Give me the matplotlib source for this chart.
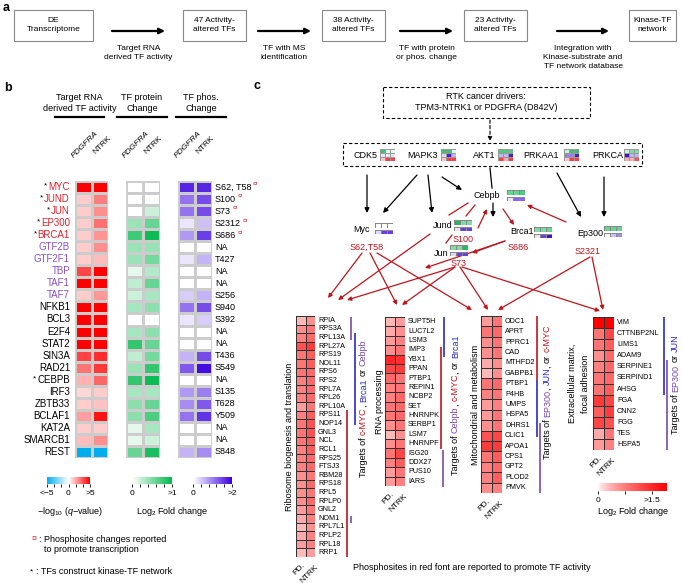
import numpy as np
import matplotlib
matplotlib.use('Agg')
import matplotlib.pyplot as plt
from matplotlib.colors import LinearSegmentedColormap, Normalize
from matplotlib.cm import ScalarMappable
from matplotlib.patches import Rectangle

plt.rcParams['font.family'] = ['Liberation Sans', 'DejaVu Sans']
plt.rcParams['mathtext.fontset'] = 'custom'
plt.rcParams['mathtext.rm'] = 'Liberation Sans'
plt.rcParams['mathtext.it'] = 'Liberation Sans:italic'

# ---------------- data ----------------
# panel a
flow_boxes = ['DE\nTranscriptome', '47 Activity-\naltered TFs', '38 Activity-\naltered TFs',
              '23 Activity-\naltered TFs', 'Kinase-TF\nnetwork']
flow_steps = ['Target RNA\nderived TF activity', 'TF with MS\nidentification',
              'TF with protein\nor phos. change', 'Integration with\nKinase-substrate and\nTF network database']

# panel b
tf_names = ['MYC', 'JUND', 'JUN', 'EP300', 'BRCA1', 'GTF2B', 'GTF2F1', 'TBP', 'TAF1', 'TAF7',
            'NFKB1', 'BCL3', 'E2F4', 'STAT2', 'SIN3A', 'RAD21', 'CEBPB', 'IRF3', 'ZBTB33',
            'BCLAF1', 'KAT2A', 'SMARCB1', 'REST']
tf_starred = ['MYC', 'JUND', 'JUN', 'EP300', 'BRCA1', 'CEBPB']
tf_red = ['MYC', 'JUND', 'JUN', 'EP300', 'BRCA1']
tf_purple = ['GTF2B', 'GTF2F1', 'TBP', 'TAF1', 'TAF7']
tf_activity = [[5, 5], [1, 2.5], [1, 2.2], [1, 2.8], [1, 2.1], [1, 2.2], [1, 1.3], [3.6, 5],
               [5, 5], [1, 2], [5, 5], [5, 5], [5, 5], [5, 5], [3.7, 4.1], [2.7, 3.9],
               [1.5, 3.0], [0.8, 1.0], [1.0, 1.2], [1.9, 4.6], [1.0, 1.0], [1.3, 2.2], [-5, -5]]
tf_protein = [[0, 0], [0, 0], [0, 0.2], [0.4, 0.6], [0.75, 0.95], [0.4, 0.4], [0.4, 0.55],
              [0.1, 0.3], [0.25, 0.6], [0.2, 0.35], [0.35, 0.45], [0, 0], [0.35, 0.45],
              [0.8, 0.6], [0.25, 0.55], [0.4, 0.8], [0.8, 0.95], [0.35, 0.35], [0.45, 0.6],
              [0.45, 0.7], [0.1, 0.35], [0.1, 0.2], [0.6, 0.9]]
tf_phos = [[1.7, 1.7], [1.1, 1.4], [1.1, 1.4], [0.2, 0.5], [0.8, 1.5], [0, 0], [0.2, 0.6],
           [0, 0], [0, 0], [0.4, 0.6], [1.1, 1.4], [0.2, 0.4], [0, 0], [0, 0], [0.6, 1.4],
           [1.3, 1.9], [0, 0], [0.8, 1.0], [0.9, 1.3], [1.1, 1.6], [0, 0], [0, 0], [0.6, 0.9]]
phos_sites = ['S62, T58', 'S100', 'S73', 'S2312', 'S686', 'NA', 'T427', 'NA', 'NA', 'S256',
              'S940', 'S392', 'NA', 'NA', 'T436', 'S549', 'NA', 'S135', 'T628', 'Y509',
              'NA', 'NA', 'S848']
phos_reported = ['S62, T58', 'S100', 'S73', 'S2312', 'S686']

# panel c
kinases = ['CDK5', 'MAPK3', 'AKT1', 'PRKAA1', 'PRKCA']
kin_protein = [[0.8, 0.1, 0.1], [0.8, 0.8, 0.1], [0.7, 0.7, 0.7], [0.2, 0.8, 0.8], [0.2, 0.5, 0.5]]
kin_phos = [[0.2, 0.2, 0.2], [0.3, 1.8, 0.6], [0.6, 0.6, 1.8], [1.0, 1.0, 1.8], [1.9, 0.6, 0.6]]
kin_activity = [[0.2, 1.0, 1.0], [0.2, 1.0, 1.0], [1.0, 0.3, 1.0], [0.2, 1.0, 1.0], [0.3, 0.3, 0.9]]

nodes = ['Cebpb', 'Myc', 'Jund', 'Brca1', 'Ep300', 'Jun']
node_protein = [[0.6, 0.6, 0.7], [0, 0, 0], [0.9, 0.5, 0.5], [0.5, 0.5, 0.6], [0.6, 0.6, 0.6], [0.5, 0.5, 0.9]]
node_phos = [[0.2, 1.2, 1.2], [0.3, 1.5, 1.5], [0.2, 1.5, 1.5], [0.2, 1.5, 1.9], [0.1, 0.5, 0.9], [0.3, 1.5, 1.5]]
node_sites = ['S62,T58', 'S100', 'S73', 'S686', 'S2321']

ribo_genes = ['RPIA', 'RPS3A', 'RPL13A', 'RPL27A', 'RPS19', 'NOL11', 'RPS6', 'RPS2', 'RPL7A',
              'RPL26', 'RPL10A', 'RPS11', 'NOP14', 'GNL3', 'NCL', 'RCL1', 'RPS25', 'FTSJ3',
              'RBM28', 'RPS18', 'RPL5', 'RPLP0', 'GNL2', 'NOM1', 'RPL7L1', 'RPLP2', 'RPL18', 'RRP1']
ribo_fc = [[0.3, 0.6], [0.6, 0.8], [0.7, 0.9], [1.1, 1.3], [0.8, 1.0], [0.8, 1.0], [0.8, 0.9],
           [0.7, 0.9], [0.7, 0.9], [0.7, 0.9], [0.5, 0.8], [0.7, 1.0], [0.8, 1.1], [0.8, 1.1],
           [0.8, 1.0], [0.7, 1.0], [0.7, 0.9], [0.7, 0.9], [0.6, 0.8], [0.6, 0.9], [0.6, 0.8],
           [0.6, 0.9], [0.5, 0.8], [0.4, 0.7], [0.3, 0.6], [0.4, 0.7], [0.5, 0.7], [0.3, 0.5]]
rna_genes = ['SUPT5H', 'LUC7L2', 'LSM3', 'IMP3', 'YBX1', 'PPAN', 'PTBP1', 'REPIN1', 'NCBP2',
             'SET', 'HNRNPK', 'SERBP1', 'LSM7', 'HNRNPF', 'ISG20', 'DDX27', 'PUS10', 'IARS']
rna_fc = [[0.3, 0.5], [0.4, 0.6], [0.5, 0.7], [0.6, 0.8], [1.5, 1.4], [1.2, 1.3], [0.9, 0.8],
          [0.7, 0.8], [0.7, 0.9], [0.8, 0.9], [0.8, 0.9], [0.6, 0.8], [0.3, 0.6], [0.6, 0.8],
          [0.8, 1.2], [0.7, 1.0], [0.5, 0.8], [0.5, 0.7]]
mito_genes = ['ODC1', 'APRT', 'PPRC1', 'CAD', 'MTHFD2', 'GABPB1', 'PTBP1', 'P4HB', 'UMPS',
              'HSPA5', 'DHRS1', 'CLIC1', 'APOA1', 'CPS1', 'GPT2', 'PLOD2', 'PMVK']
mito_fc = [[0.5, 0.8], [0.8, 0.9], [0.6, 0.8], [0.6, 0.8], [0.4, 0.6], [0.3, 0.6], [0.8, 0.9],
           [0.7, 0.8], [0.5, 0.7], [0.5, 0.8], [0.6, 0.8], [1.1, 1.2], [1.3, 1.3], [0.8, 1.0],
           [0.7, 0.9], [0.7, 1.0], [0.6, 0.7]]
ecm_genes = ['VIM', 'CTTNBP2NL', 'LIMS1', 'ADAM9', 'SERPINE1', 'SERPIND1', 'AHSG', 'FGA',
             'CNN2', 'FGG', 'TES', 'HSPA5']
ecm_fc = [[1.9, 1.9], [0.8, 1.2], [0.8, 1.0], [0.6, 0.9], [0.7, 0.9], [0.8, 0.9], [0.8, 1.0],
          [1.3, 1.2], [1.0, 1.3], [1.2, 1.1], [0.4, 0.8], [0.5, 0.7]]

# ---------------- styles ----------------
W, H = 683, 583
RED_T = '#e2202a'
PURP_T = '#8a4fc7'
ARR_RED = '#c0141c'
BAR_BLUE = '#2a2ac8'
BAR_PURP = '#7b48b0'

cm_act = LinearSegmentedColormap.from_list('act', ['#00aeef', 'white', '#ff0000'])
cm_green = LinearSegmentedColormap.from_list('grn', ['white', '#00b84a'])
cm_blue = LinearSegmentedColormap.from_list('blu', ['white', '#3a00e0'])
cm_red = LinearSegmentedColormap.from_list('red', ['white', '#ff0000'], gamma=0.7)

fig = plt.figure(figsize=(6.83, 5.83), dpi=100)
ov = fig.add_axes([0, 0, 1, 1])
ov.set_xlim(0, W)
ov.set_ylim(H, 0)
ov.axis('off')
rend = fig.canvas.get_renderer()


def px_axes(x0, y0, x1, y1):
    return fig.add_axes([x0 / W, 1 - y1 / H, (x1 - x0) / W, (y1 - y0) / H])


def heat(x0, y0, x1, y1, vals, cmap, vmin, vmax, edge='#cccccc', lw=0.8):
    ax = px_axes(x0, y0, x1, y1)
    vals = np.asarray(vals, dtype=float)
    ax.pcolormesh(vals, cmap=cmap, vmin=vmin, vmax=vmax, edgecolors=edge, linewidth=lw)
    ax.set_xlim(0, vals.shape[1])
    ax.set_ylim(vals.shape[0], 0)
    ax.axis('off')
    return ax


def arrow(p0, p1, color='k', lw=0.9, ms=7, ls='-'):
    ov.annotate('', xy=p1, xytext=p0,
                arrowprops=dict(arrowstyle='-|>', color=color, lw=lw, mutation_scale=ms,
                                shrinkA=0, shrinkB=0, linestyle=ls))


def vtext(x, yc, parts, size=6.5):
    items = []
    for s, c, gap in parts:
        t = ov.text(x, 0, s, color=c, fontsize=size, rotation=90, rotation_mode='anchor',
                    ha='left', va='baseline')
        items.append((t, t.get_window_extent(rend).height, gap))
    total = sum(h + g for _, h, g in items)
    y = yc + total / 2
    for t, h, g in items:
        y -= g
        t.set_y(y)
        y -= h


def cbar(x0, y0, x1, y1, cmap, vmin, vmax, ticks, labels):
    cax = px_axes(x0, y0, x1, y1)
    cb = fig.colorbar(ScalarMappable(Normalize(vmin, vmax), cmap), cax=cax, orientation='horizontal')
    cb.outline.set_visible(False)
    cb.set_ticks(ticks)
    cb.set_ticklabels(labels)
    cax.tick_params(labelsize=6, length=2.5, width=0.6, pad=1.5)
    return cb


# ---------------- panel a ----------------
ov.text(3, 8, 'a', fontsize=9, fontweight='bold', va='center')
box_x = [(14, 93), (183, 246), (322, 385), (464, 527), (629, 676)]
for (x0, x1), lab in zip(box_x, flow_boxes):
    ov.add_patch(Rectangle((x0, 10), x1 - x0, 31, fill=False, ec='#888888', lw=0.8))
    ov.text((x0 + x1) / 2, 25, lab, fontsize=6, ha='center', va='center', linespacing=1.3)
arr_x = [(112, 165), (258, 311), (400, 453), (557, 609)]
for (x0, x1), lab in zip(arr_x, flow_steps):
    arrow((x0, 31), (x1, 31), lw=1.6, ms=8)
    ov.text((x0 + x1) / 2, 45, lab, fontsize=6, ha='center', va='top', linespacing=1.35)

# ---------------- panel b ----------------
ov.text(4, 88, 'b', fontsize=9, fontweight='bold', va='center')
heads = ['Target RNA\nderived TF activity', 'TF protein\nChange', 'TF phos.\nChange']
cols_x = [(75, 108), (126, 160), (178, 212)]
line_x = [(55, 104), (117, 167), (176, 226)]
for (lx0, lx1), hd in zip(line_x, heads):
    ov.text((lx0 + lx1) / 2, 103, hd, fontsize=6.5, ha='center', va='center', linespacing=1.2)
    ov.plot([lx0, lx1], [117, 117], color='k', lw=1.6)
for x0, x1 in cols_x:
    ov.text(x0 + 23, 133, 'PDGFRA', fontsize=6, style='italic', rotation=45,
            rotation_mode='anchor', ha='right', va='baseline')
    ov.text(x0 + 36, 138, 'NTRK', fontsize=6, rotation=45,
            rotation_mode='anchor', ha='right', va='baseline')

ty0, ty1 = 181, 458
heat(75, ty0, 108, ty1, tf_activity, cm_act, -5, 5)
heat(126, ty0, 160, ty1, tf_protein, cm_green, 0, 1)
heat(178, ty0, 212, ty1, tf_phos, cm_blue, 0, 2)
rh = (ty1 - ty0) / len(tf_names)
for i, name in enumerate(tf_names):
    yc = ty0 + (i + 0.5) * rh
    col = RED_T if name in tf_red else (PURP_T if name in tf_purple else 'k')
    t = ov.text(70, yc, name, fontsize=7, color=col, ha='right', va='center')
    if name in tf_starred:
        bb = t.get_window_extent(rend)
        ov.text(bb.x0 - 1, yc - 1, '*', fontsize=6, ha='right', va='center')
    s = ov.text(215, yc, phos_sites[i], fontsize=6.5, ha='left', va='center')
    if phos_sites[i] in phos_reported:
        bb = s.get_window_extent(rend)
        ov.text(bb.x1 + 1.5, yc - 3, '¤', fontsize=6, color=RED_T, ha='left', va='center')

cbar(47, 477, 90, 484, cm_act, -5, 5, [-5, -3.33, -1.67, 0, 1.67, 3.33, 5],
     ['<\u22125', '', '', '0', '', '', '>5'])
cbar(132, 477, 172, 484, cm_green, 0, 1, [0, 0.2, 0.4, 0.6, 0.8, 1], ['0', '', '', '', '', '>1'])
cbar(193, 477, 232, 484, cm_blue, 0, 2, [0, 0.4, 0.8, 1.2, 1.6, 2], ['0', '', '', '', '', '>2'])
ov.text(70, 511, r'$-$log$_{10}$ ($q$$-$value)', fontsize=6.5, ha='center', va='center')
ov.text(172, 511, r'Log$_2$ Fold change', fontsize=6.5, ha='center', va='center')
ov.text(34, 539, '¤', fontsize=6.5, color=RED_T, ha='center', va='center')
ov.text(39, 539, ': Phosphosite changes reported', fontsize=6.5, ha='left', va='center')
ov.text(44, 549, 'to promote transcription', fontsize=6.5, ha='left', va='center')
ov.text(31, 572, '*', fontsize=6, ha='center', va='center')
ov.text(36, 571, ': TFs construct kinase-TF network', fontsize=6.5, ha='left', va='center')

# ---------------- panel c ----------------
ov.text(254, 86, 'c', fontsize=9, fontweight='bold', va='center')
ov.add_patch(Rectangle((383, 87), 207, 31, fill=False, ec='k', lw=0.8, ls=(0, (3, 2))))
ov.text(486, 102, 'RTK cancer drivers:\nTPM3-NTRK1 or PDGFRA (D842V)', fontsize=6.5,
        ha='center', va='center', linespacing=1.3)
arrow((490, 120), (490, 141), lw=0.8, ms=6, ls=(0, (3, 2)))
ov.add_patch(Rectangle((343, 143), 299, 23, fill=False, ec='k', lw=0.8, ls=(0, (3, 2))))

kin_lab_x = [365, 422, 484, 541, 608]
kin_map_x = [380, 441, 498, 564, 624]
for i, k in enumerate(kinases):
    ov.text(kin_lab_x[i], 156, k, fontsize=6.5, ha='center', va='center')
    x0 = kin_map_x[i]
    heat(x0, 149, x0 + 15, 153, [kin_protein[i]], cm_green, 0, 1, edge='#999999', lw=0.4)
    heat(x0, 153, x0 + 15, 157, [kin_phos[i]], cm_blue, 0, 2, edge='#999999', lw=0.4)
    heat(x0, 157, x0 + 15, 161, [kin_activity[i]], cm_red, 0, 1.5, edge='#999999', lw=0.4)

node_xy = [(487, 196), (362, 229), (443, 226), (522, 231), (590, 233), (441, 253)]
node_map = [(507, 190), (375, 223), (454, 220), (534, 227), (604, 226), (450, 245)]
for i, nd in enumerate(nodes):
    ov.text(node_xy[i][0], node_xy[i][1], nd, fontsize=6.5, ha='center', va='center')
    x0, y0 = node_map[i]
    heat(x0, y0, x0 + 18, y0 + 4.5, [node_protein[i]], cm_green, 0, 1, edge='#888888', lw=0.4)
    heat(x0, y0 + 6.5, x0 + 18, y0 + 11, [node_phos[i]], cm_blue, 0, 2, edge='#888888', lw=0.4)
site_xy = [(367, 247), (463, 240), (459, 264), (518, 248), (588, 251)]
for (x, y), s in zip(site_xy, node_sites):
    ov.text(x, y, s, fontsize=6.5, color=ARR_RED, ha='center', va='center')

# black kinase -> TF edges
for p0, p1 in [((367, 175), (367, 213)), ((417, 175), (383, 213)), ((428, 175), (432, 213)),
               ((442, 177), (462, 190)), ((557, 173), (581, 217)), ((604, 177), (604, 217)),
               ((493, 203), (493, 217))]:
    arrow(p0, p1, lw=0.9, ms=7)
ov.plot([490, 492], [168, 188], color='k', lw=0.9)

# red TF edges
for p0, p1 in [((566, 222), (527, 205)), ((478, 228), (487, 209)), ((503, 209), (514, 225)),
               ((505, 241), (472, 253)), ((505, 241), (425, 268)),
               ((362, 253), (328, 298)), ((370, 253), (397, 305)), ((377, 253), (472, 310)),
               ((430, 234), (338, 300)), ((455, 267), (347, 300)), ((455, 267), (402, 305)),
               ((460, 267), (488, 310)), ((462, 267), (600, 311)),
               ((590, 257), (498, 310)), ((592, 257), (603, 310))]:
    arrow(p0, p1, color=ARR_RED, lw=0.9, ms=6)
for p0, p1 in [((468, 203), (449, 215)), ((475, 205), (466, 216)), ((452, 235), (446, 243))]:
    ov.plot([p0[0], p1[0]], [p0[1], p1[1]], color=ARR_RED, lw=0.9)

modules = [
    dict(x0=296, x1=315, y0=316, y1=557, genes=ribo_genes, fc=ribo_fc,
         title='Ribosome biogenesis and translation', tx=290),
    dict(x0=385, x1=405, y0=317, y1=486, genes=rna_genes, fc=rna_fc,
         title='RNA processing', tx=380),
    dict(x0=481, x1=502, y0=316, y1=493, genes=mito_genes, fc=mito_fc,
         title='Mitochondrial and metabolism', tx=476),
    dict(x0=593, x1=614, y0=317, y1=450, genes=ecm_genes, fc=ecm_fc,
         title='Extracellular matrix,\nfocal adhesion', tx=579),
]
for m in modules:
    heat(m['x0'], m['y0'], m['x1'], m['y1'], m['fc'], cm_red, 0, 1.9, edge='#333333', lw=0.6)
    h = (m['y1'] - m['y0']) / len(m['genes'])
    for i, g in enumerate(m['genes']):
        ov.text(m['x1'] + 3, m['y0'] + (i + 0.5) * h, g, fontsize=5.2, ha='left', va='center')
    ov.text(m['tx'], (m['y0'] + m['y1']) / 2, m['title'], fontsize=6.5, rotation=90,
            ha='center', va='center', linespacing=1.6)
    ov.text(m['x0'] + 8, m['y1'] + 7, 'PD.', fontsize=6, rotation=45, rotation_mode='anchor',
            ha='right', va='center')
    ov.text(m['x0'] + 21, m['y1'] + 9, 'NTRK', fontsize=6, rotation=45, rotation_mode='anchor',
            ha='right', va='center')

# target bars
for x, y0, y1, c in [(347, 410, 557, ARR_RED), (351, 317, 340, BAR_PURP), (355, 333, 425, BAR_BLUE),
                     (351, 516, 523, BAR_PURP),
                     (441, 347, 449, ARR_RED), (444, 317, 357, BAR_BLUE), (443, 450, 487, BAR_PURP),
                     (537, 316, 380, ARR_RED), (537, 380, 437, BAR_BLUE), (540, 423, 493, BAR_PURP),
                     (664, 317, 395, BAR_BLUE), (667, 360, 450, BAR_PURP)]:
    ov.plot([x, x], [y0, y1], color=c, lw=1.2, solid_capstyle='butt')

g = 2.5
vtext(366, 408, [('Targets of', 'k', 0), ('c-MYC', ARR_RED, g), (',', 'k', 0),
                 ('Brca1', BAR_BLUE, g), ('or', 'k', g), ('Cebpb', BAR_PURP, g)])
vtext(458, 405, [('Targets of', 'k', 0), ('Cebpb', BAR_PURP, g), (',', 'k', 0),
                 ('c-MYC', ARR_RED, g), (',', 'k', 0), ('or', 'k', g), ('Brca1', BAR_BLUE, g)])
vtext(550, 392, [('Targets of', 'k', 0), ('EP300', BAR_PURP, g), (',', 'k', 0),
                 ('JUN', BAR_BLUE, g), (',', 'k', 0), ('or', 'k', g), ('c-MYC', ARR_RED, g)])
vtext(678, 384, [('Targets of', 'k', 0), ('EP300', BAR_PURP, g), ('or', 'k', g),
                 ('JUN', BAR_BLUE, g)])

cbar(598, 483, 667, 491, cm_red, 0, 1.9, [0, 0.75, 1.5], ['0', '', '>1.5'])
ov.text(633, 512, r'Log$_2$ Fold change', fontsize=6.5, ha='center', va='center')
ov.text(472, 567, 'Phosphosites in red font are reported to promote TF activity',
        fontsize=6.5, ha='center', va='center')

fig.savefig('out.png', dpi=100)
